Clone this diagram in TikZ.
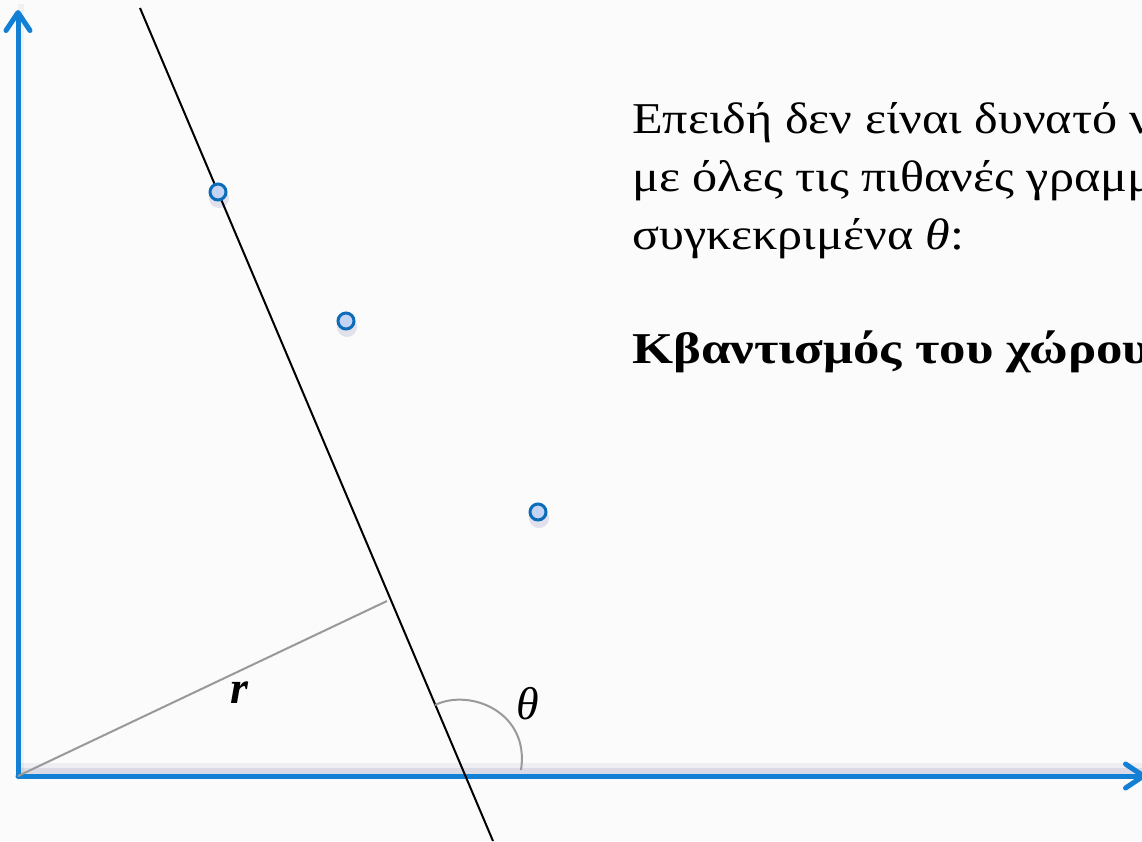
\documentclass[tikz,border=0pt]{standalone}
\usepackage{fontspec}
\setmainfont{Liberation Serif}
\newfontfamily\bodyfont[FakeStretch=1.14]{Liberation Serif}
\newfontfamily\headfont[FakeStretch=1.2]{Liberation Serif}
\usetikzlibrary{arrows.meta}
\definecolor{axisblue}{RGB}{18,128,212}
\definecolor{ptblue}{RGB}{12,108,186}
\definecolor{ptfill}{RGB}{196,212,244}

\begin{document}
\begin{tikzpicture}[x=1pt, y=-1pt,
    axis/.style={line width=5pt, axisblue, line cap=round, -{Straight Barb[length=18pt, width=24pt, line cap=round, line join=round]}},
    sample/.style={circle, draw=ptblue, fill=ptfill, line width=3pt, minimum size=16pt, inner sep=0pt},
    txt/.style={anchor=base west, inner sep=0pt, font=\bodyfont\fontsize{44}{50}\selectfont},
    lbl/.style={inner sep=0pt, font=\fontsize{46}{50}\selectfont},
]
    % Background
    \fill[gray!3] (0,0) rectangle (1142,841);
    \clip (0,0) rectangle (1142,841);

    % Axes
    \coordinate (O) at (18,776);
    \coordinate (ytip) at (18,10);
    \coordinate (xtip) at (1146,776);
    \draw[line width=12pt, black!60!blue, opacity=0.05] ([yshift=7pt]O) -- ([yshift=7pt]xtip);
    \draw[line width=6pt, black!60!blue, opacity=0.08] ([yshift=5pt]O) -- ([yshift=5pt]xtip);
    \draw[line width=6pt, black, opacity=0.04] ([xshift=3pt]O) -- ([xshift=3pt,yshift=6pt]ytip);
    \draw[axis] (O) -- (ytip);
    \draw[axis] (O) -- (xtip);

    % Line and normal
    \coordinate (la) at (140,8);
    \coordinate (lb) at (493,841);
    \coordinate (F) at (387,601);
    \draw[gray!80, line width=2pt] (O) -- (F);
    \draw[line width=2pt] (la) -- (lb);

    % Angle
    \coordinate (a1) at (435,705);
    \coordinate (a2) at (521,770);
    \draw[gray!80, line width=2pt] (a1) .. controls (470,688) and (530,712) .. (a2);
    \node[lbl] (theta) at (528,704) {\textit{θ}};
    \node[lbl] (r) at (240,693) {\textbf{\textit{r}}};

    % Points
    \foreach \p/\x/\y in {p1/218/192, p2/346/321, p3/538/512} {
        \fill[black!60!blue, opacity=0.1] (\x+1,\y+6) circle (10pt);
        \node[sample] (\p) at (\x,\y) {};
    }

    % Text
    \node[txt] (t1) at (632,133) {Επειδή δεν είναι δυνατό να};
    \node[txt] (t2) at (632,191) {με όλες τις πιθανές γραμμές};
    \node[txt] (t3) at (632,249) {συγκεκριμένα \textit{θ}:};
    \node[txt, font=\headfont\fontsize{44}{50}\selectfont\bfseries] (t4) at (632,363) {Κβαντισμός του χώρου};
\end{tikzpicture}
\end{document}
